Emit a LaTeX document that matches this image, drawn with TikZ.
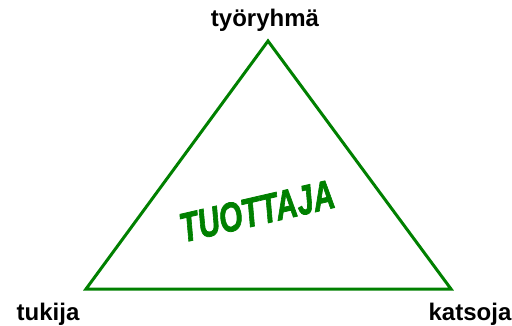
\documentclass[tikz,border=0pt]{standalone}
\usepackage{fontspec}
\setmainfont{Liberation Sans}
\newfontfamily\tuofont{Liberation Sans}[BoldItalicFeatures={FakeBold=2}]
\definecolor{tgreen}{RGB}{0,128,0}
\begin{document}
\begin{tikzpicture}[x=1pt,y=-1pt,
  lbl/.style={font=\fontsize{24}{24}\selectfont\bfseries, inner sep=0pt, anchor=base},
  edge/.style={draw=tgreen, line width=3pt, line join=miter}]
\useasboundingbox (0,0) rectangle (512,326);
\coordinate (top) at (268,41);
\coordinate (bl) at (86,289);
\coordinate (br) at (451,289);
\draw[edge] (top) -- (bl) -- (br) -- cycle;
\node[lbl] (tyo) at (265,27) {työryhmä};
\node[lbl] (tuk) at (48,320) {tukija};
\node[lbl] (kat) at (470,320) {katsoja};
\node[text=tgreen, rotate=13, inner sep=0pt, font=\tuofont\fontsize{41}{41}\selectfont\bfseries\itshape] (tuo) at (257,211) {\scalebox{0.73}[1]{TUOTTAJA}};
\end{tikzpicture}
\end{document}
